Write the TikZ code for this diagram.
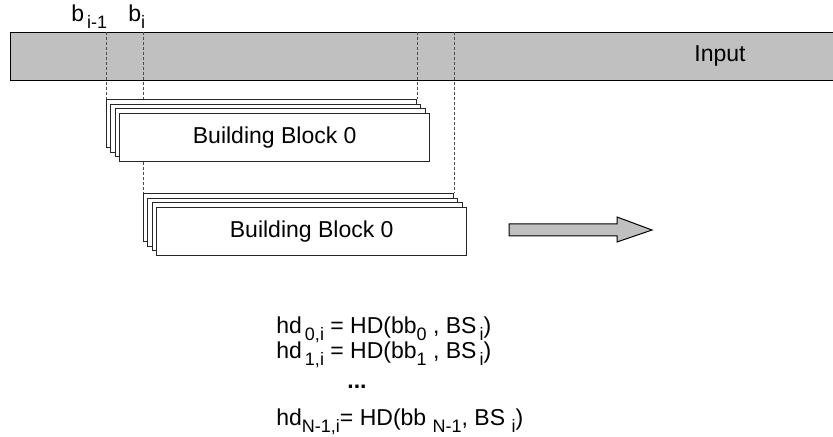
\documentclass[tikz,border=0pt]{standalone}
\usepackage{fontspec}
\setmainfont{Liberation Sans}
\usetikzlibrary{positioning,calc,backgrounds}
\definecolor{bargray}{HTML}{C0C0C0}
\newcommand\lowsub[1]{\raisebox{-3.5pt}{\fontsize{9}{10}\selectfont #1}}

\begin{document}
\begin{tikzpicture}[x=0.5pt,y=-0.5pt,
  bblock/.style={draw=black!85, line width=0.5pt, fill=white, minimum width=155pt, minimum height=24pt, inner sep=0pt, anchor=north west},
  guide/.style={draw=black!70, line width=0.4pt, dash pattern=on 1.5pt off 1pt},
  label/.style={font=\fontsize{11.5}{13}\selectfont, inner sep=0pt}]
  \def\dx{4.4}
  \def\dy{4.7}
  \useasboundingbox (0,0) rectangle (833,437);
  \begin{pgfonlayer}{background}
    \node[draw=black, fill=bargray, line width=0.5pt, minimum width=420pt, minimum height=24pt, inner sep=0pt, anchor=north west] (inbar) at (10,32) {};
  \end{pgfonlayer}
  \node[label] (intext) at (720,56) {Input};
  \node[label, anchor=base west] (bprev) at (71,22) {b\lowsub{\,i-1}};
  \node[label, anchor=base west] (bcur) at (128,22) {b\lowsub{i}};
  \foreach \k in {0,1,2}{
    \node[bblock] (bA\k) at (106+\k*\dx, 99+\k*\dy) {};
    \node[bblock] (bB\k) at (143+\k*\dx, 193+\k*\dy) {};
  }
  \node[bblock, label] (bA3) at (106+3*\dx, 99+3*\dy) {Building Block 0};
  \node[bblock, label] (bB3) at (143+3*\dx, 193+3*\dy) {Building Block 0};
  \begin{pgfonlayer}{background}
    \draw[guide] (bA0.north west |- inbar.north) -- (bA0.north west);
    \draw[guide] (bA0.north east |- inbar.north) -- (bA0.north east);
    \draw[guide] (bB0.north west |- inbar.north) -- (bB0.north west);
    \draw[guide] (bB0.north east |- inbar.north) -- (bB0.north east);
  \end{pgfonlayer}
  \draw[fill=bargray, line width=0.5pt] (509,224) -- (617,224) -- (617,217) -- (652,230)
    -- (617,242) -- (617,236) -- (509,236) -- cycle;
  \node[label, anchor=base west] (hd0) at (276,334) {hd\lowsub{\,0,i} = HD(bb\lowsub{0} , BS\lowsub{\,i})};
  \node[label, anchor=base west] (hd1) at (276,358) {hd\lowsub{\,1,i} = HD(bb\lowsub{1} , BS\lowsub{\,i})};
  \node[label, anchor=base west] (hddots) at (347,388) {\textbf{...}};
  \node[label, anchor=base west] (hdN) at (276,425) {hd\lowsub{N-1,i}= HD(bb \lowsub{N-1}, BS \lowsub{i})};
\end{tikzpicture}
\end{document}
